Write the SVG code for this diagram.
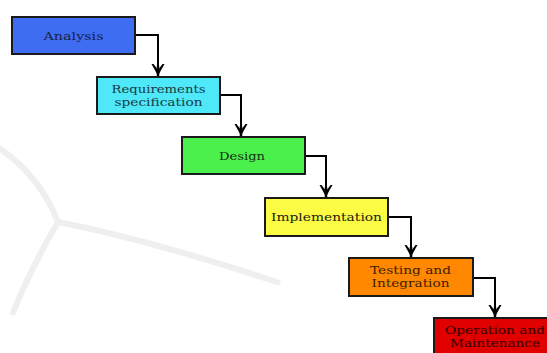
<svg xmlns="http://www.w3.org/2000/svg" width="547" height="353" viewBox="0 0 547 353">
<defs>
<marker id="arr" viewBox="0 0 12 14" refX="12" refY="7" markerWidth="12" markerHeight="14" markerUnits="userSpaceOnUse" orient="auto">
<path d="M0,0.5 Q6,4 12,7 Q6,10 0,13.5 L0,11.5 Q4,8.5 6,7 Q4,5.5 0,2.5 Z" fill="#000"/>
<path d="M2,7 H12" stroke="#000" stroke-width="2.5"/>
</marker>
<style>
.box{stroke:#1a1a1a;stroke-width:2}
.t{font-family:"DejaVu Serif","Liberation Serif",serif;font-size:11.5px;text-anchor:middle}
.c{fill:none;stroke:#000;stroke-width:2}
.wm{fill:none;stroke:#efefef;stroke-width:6}
</style>
</defs>
<rect width="547" height="353" fill="#fff"/>
<g id="watermark">
<path class="wm" d="M-5,145 Q40,175 58,222 Q150,240 280,283"/>
<path class="wm" d="M58,222 Q30,270 12,315"/>
</g>
<g id="connectors">
<path class="c" d="M135,35 H158 V76" marker-end="url(#arr)"/>
<path class="c" d="M220,95 H241 V136" marker-end="url(#arr)"/>
<path class="c" d="M305,156 H326 V197" marker-end="url(#arr)"/>
<path class="c" d="M388,217 H411 V257" marker-end="url(#arr)"/>
<path class="c" d="M473,278 H495 V317" marker-end="url(#arr)"/>
</g>
<g id="analysis">
<rect class="box" x="12" y="17" width="123" height="37" fill="#3f6df2"/>
<text class="t" x="73.5" y="39.5" fill="#1a2040" textLength="60" lengthAdjust="spacingAndGlyphs">Analysis</text>
</g>
<g id="requirements">
<rect class="box" x="97" y="77" width="123" height="37" fill="#4ee8f8"/>
<text class="t" x="158.5" y="92.5" fill="#1a3a40" textLength="94" lengthAdjust="spacingAndGlyphs">Requirements</text>
<text class="t" x="158.5" y="105.5" fill="#1a3a40" textLength="88" lengthAdjust="spacingAndGlyphs">specification</text>
</g>
<g id="design">
<rect class="box" x="182" y="137" width="123" height="37" fill="#4cf04c"/>
<text class="t" x="242" y="159.5" fill="#103010" textLength="46" lengthAdjust="spacingAndGlyphs">Design</text>
</g>
<g id="implementation">
<rect class="box" x="265" y="198" width="123" height="38" fill="#fcfc44"/>
<text class="t" x="326.5" y="221" fill="#202010" textLength="111" lengthAdjust="spacingAndGlyphs">Implementation</text>
</g>
<g id="testing">
<rect class="box" x="349" y="258" width="124" height="38" fill="#ff8800"/>
<text class="t" x="410.5" y="273.5" fill="#402000" textLength="81" lengthAdjust="spacingAndGlyphs">Testing and</text>
<text class="t" x="410.5" y="286.5" fill="#402000" textLength="78" lengthAdjust="spacingAndGlyphs">Integration</text>
</g>
<g id="operation">
<rect class="box" x="434" y="318" width="125" height="40" fill="#e00000"/>
<text class="t" x="495" y="334" fill="#300000" textLength="100" lengthAdjust="spacingAndGlyphs">Operation and</text>
<text class="t" x="495" y="347" fill="#300000" textLength="90" lengthAdjust="spacingAndGlyphs">Maintenance</text>
</g>
</svg>
